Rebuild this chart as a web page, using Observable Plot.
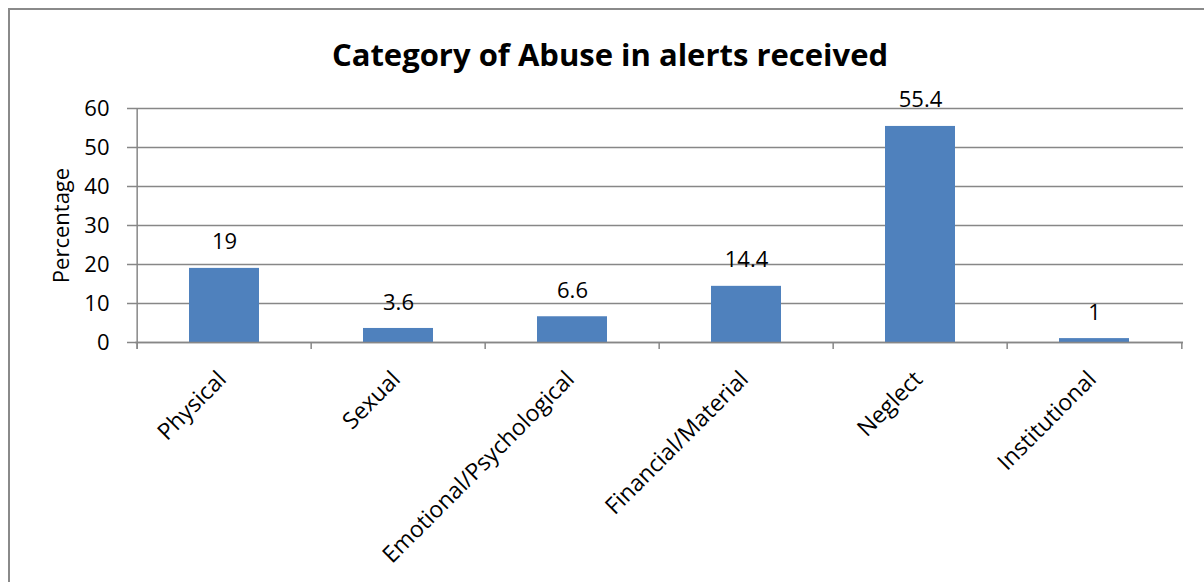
<!DOCTYPE html>
<html>
<head>
<meta charset="utf-8">
<script src="https://cdn.jsdelivr.net/npm/d3@7"></script>
<script src="https://cdn.jsdelivr.net/npm/@observablehq/plot@0.6"></script>
<style>
  html, body { margin: 0; padding: 0; background: #fff; overflow: hidden; }
  #wrap { position: relative; width: 1204px; height: 582px; }
  #border { position: absolute; left: 8px; top: 8px; width: 1210px; height: 590px; border: 2px solid #8a8a8a; box-sizing: border-box; }
  #title { position: absolute; left: 0; top: 33px; width: 1220px; text-align: center; font-family: "Open Sans", sans-serif; font-weight: bold; font-size: 31px; color: #000; }
  #chart { position: absolute; left: 0; top: 0; }
</style>
</head>
<body>
<div id="wrap">
  <div id="border"></div>
  <div id="title">Category of Abuse in alerts received</div>
  <div id="chart"></div>
</div>
<script>
const categories = ["Physical", "Sexual", "Emotional/Psychological", "Financial/Material", "Neglect", "Institutional"];
const values = [19, 3.6, 6.6, 14.4, 55.4, 1];
const yTicks = [0, 10, 20, 30, 40, 50, 60];
const yLabel = "Percentage";

const data = categories.map((c, i) => ({category: c, value: values[i]}));

const width = 1204, height = 582;
const marginLeft = 135, marginRight = 21, marginTop = 108, marginBottom = 240;
const band = (width - marginLeft - marginRight) / categories.length;
const gray = "#878787";

const chart = Plot.plot({
  width, height, marginLeft, marginRight, marginTop, marginBottom,
  style: {fontFamily: "'Open Sans', sans-serif", fontSize: "22px", color: "#000", background: "transparent"},
  x: {domain: categories, padding: 0.6, paddingOuter: 0.3},
  y: {domain: [0, 60], ticks: yTicks},
  marks: [
    Plot.gridY(yTicks, {stroke: gray, strokeOpacity: 1, strokeWidth: 1.5}),
    Plot.axisY(yTicks, {tickSize: 8, tickPadding: 18, stroke: gray, strokeWidth: 1.5, fontSize: 22, label: yLabel, labelAnchor: "center", labelArrow: "none", labelOffset: 82}),
    Plot.axisX({tickSize: 0, tickPadding: 33, dx: -2, tickRotate: -45, fontSize: 23, label: null}),
    Plot.barY(data, {x: "category", y: "value", fill: "#4F81BD"}),
    Plot.ruleY([0], {stroke: gray, strokeWidth: 1.5}),
    Plot.ruleX([0, 60], {x: () => categories[0], dx: -band / 2, y1: d => d === 0 ? -1.8 : 60, y2: 0, stroke: gray, strokeWidth: 1.5}),
    Plot.ruleX(categories, {x: d => d, dx: -band / 2, y1: 0, y2: -1.8, stroke: gray, strokeWidth: 1.5}),
    Plot.ruleX([categories[categories.length - 1]], {x: d => d, dx: band / 2, y1: 0, y2: -1.8, stroke: gray, strokeWidth: 1.5}),
    Plot.text(data, {x: "category", y: "value", text: d => String(d.value), dy: -26, fontSize: 22, fill: "#000"})
  ]
});
document.getElementById("chart").appendChild(chart);
</script>
</body>
</html>
